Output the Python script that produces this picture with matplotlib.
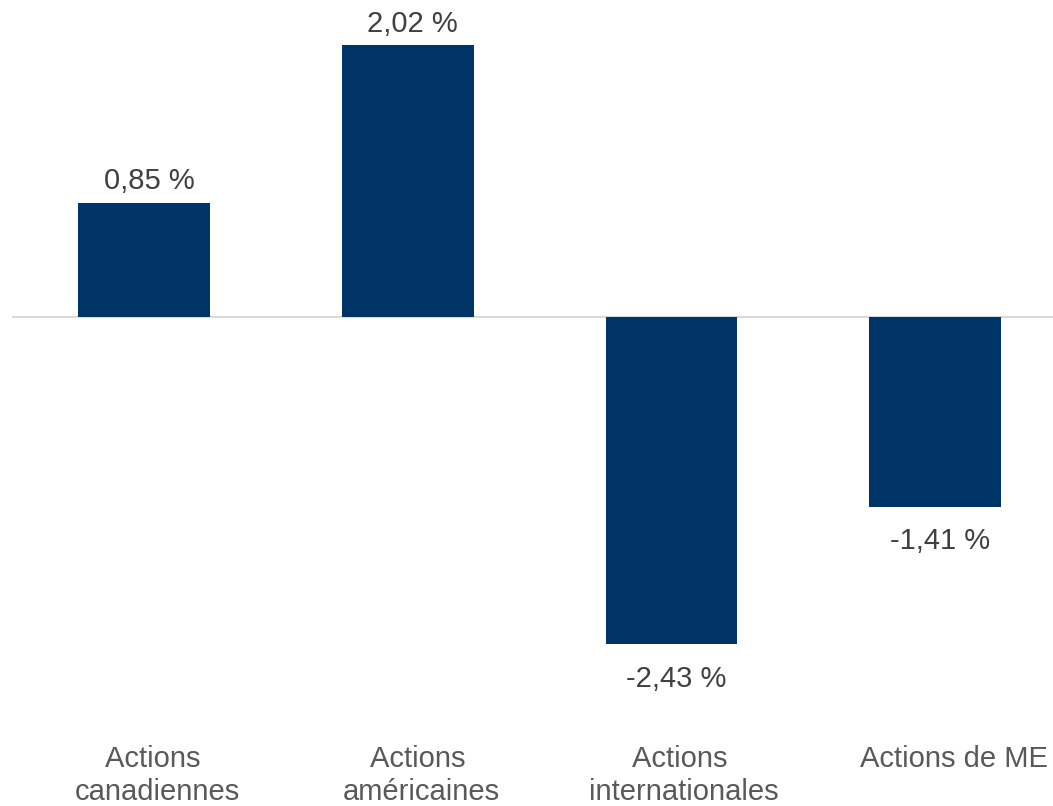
import matplotlib
matplotlib.use("Agg")
import matplotlib.pyplot as plt
import matplotlib.transforms as mtransforms

categories = ["Actions \ncanadiennes", "Actions \naméricaines", "Actions \ninternationales", "Actions de ME"]
values = [0.85, 2.02, -2.43, -1.41]
value_labels = ["0,85 %", "2,02 %", "-2,43 %", "-1,41 %"]

W, H = 1053, 806
fig = plt.figure(figsize=(W / 100, H / 100), dpi=100)
plt.rcParams['font.family'] = ['Liberation Sans', 'DejaVu Sans']

px_per_cat = 263.8
ax_left, ax_right = 12, 1053
ax_top, ax_bot = 0, 720
ax = fig.add_axes([ax_left / W, 1 - ax_bot / H, (ax_right - ax_left) / W, (ax_bot - ax_top) / H])

px_per_unit = 134.6
zero_y = 317
ymax = (zero_y - ax_top) / px_per_unit
ymin = -(ax_bot - zero_y) / px_per_unit
ax.set_ylim(ymin, ymax)
xmin = -0.5
ax.set_xlim(xmin, xmin + (ax_right - ax_left) / px_per_cat)

x = list(range(len(values)))
ax.bar(x, values, width=0.5, color="#003366", zorder=3)
ax.axhline(0, color="#d9d9d9", lw=1.5, zorder=2)

for xi, v, lab in zip(x, values, value_labels):
    off = 21.5 * 0.72 if v >= 0 else -34.5 * 0.72
    ax.annotate(lab, (xi, v), xytext=(5 * 0.72, off), textcoords="offset points",
                ha="center", va="center", fontsize=21, color="#404040")

label_dx_px = [13, 14, 12, 19]
base = ax.get_xaxis_transform()
for xi, lab, dx in zip(x, categories, label_dx_px):
    tr = base + mtransforms.ScaledTranslation(dx / 100, -25 / 100, fig.dpi_scale_trans)
    ax.text(xi, 0, lab, transform=tr, ha="center", va="top", fontsize=21,
            color="#595959", linespacing=1.22, multialignment="center")

ax.set_xticks([])
ax.set_yticks([])
for s in ax.spines.values():
    s.set_visible(False)

fig.savefig("out.png", dpi=100)
